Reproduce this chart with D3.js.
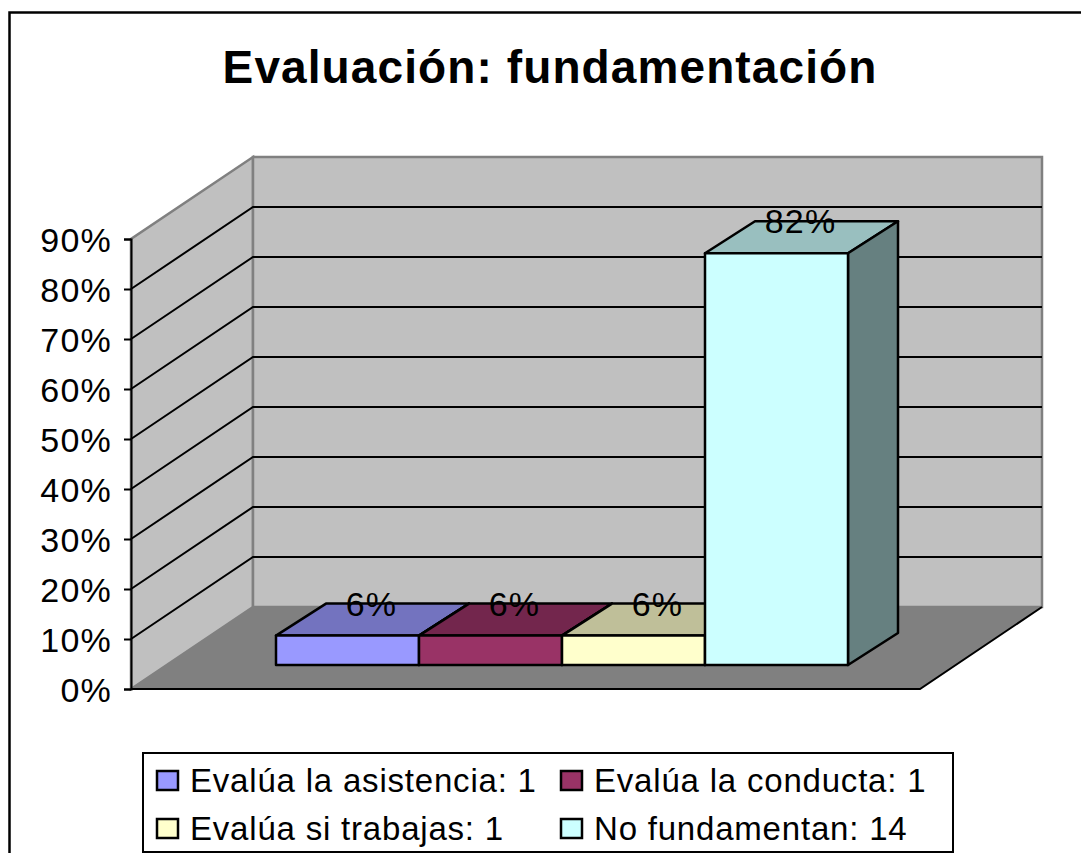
<!DOCTYPE html>
<html>
<head>
<meta charset="utf-8">
<script src="https://cdn.jsdelivr.net/npm/d3@7"></script>
<style>
html, body { margin: 0; padding: 0; background: #fff; }
svg { display: block; }
text { font-family: "Liberation Sans", Arial, sans-serif; fill: #000; }
</style>
</head>
<body>
<div id="chart"></div>
<script>
const width = 1081;
const height = 853;

const categories = ["Evalúa la asistencia", "Evalúa la conducta", "Evalúa si trabajas", "No fundamentan"];
const counts = [1, 1, 1, 14];
const percents = [5.88, 5.88, 5.88, 82.35];
const percentLabels = ["6%", "6%", "6%", "82%"];
const barColors = ["#9999FF", "#993366", "#FFFFCC", "#CCFFFF"];
const topColors = ["#7373BF", "#73264D", "#BFBF99", "#99BFBF"];
const sideColors = ["#4D4D80", "#4D1A33", "#808066", "#668080"];
const yTicks = [0, 10, 20, 30, 40, 50, 60, 70, 80, 90];

const svg = d3.select("#chart").append("svg")
    .attr("width", width)
    .attr("height", height);

// plot frame, front corner of the floor to the back wall
const plot = {left: 131, right: 920, bottom: 689, top: 239};
const wallDepth = {x: 122, y: -82};
const barDepth = {x: 50, y: -32};
const barFloor = -24; // bars stand a bit behind the front edge of the floor

const y = d3.scaleLinear().domain([0, 90]).range([plot.bottom, plot.top]);
const x = d3.scaleBand().domain(categories).range([276, 848]);

// outer border, only top and left show in the picture
svg.append("path")
    .attr("d", "M9.5,853V12.5H1081")
    .attr("fill", "none")
    .attr("stroke", "#000")
    .attr("stroke-width", 2.5);

svg.append("text")
    .attr("x", 550)
    .attr("y", 83)
    .attr("text-anchor", "middle")
    .attr("font-size", 46)
    .attr("font-weight", "bold")
    .attr("letter-spacing", 1.1)
    .text("Evaluación: fundamentación");

const pts = a => a.map(p => p.join(",")).join(" ");

// side wall
svg.append("polygon")
    .attr("points", pts([
        [plot.left, y(0)],
        [plot.left, y(90)],
        [plot.left + wallDepth.x, y(90) + wallDepth.y],
        [plot.left + wallDepth.x, y(0) + wallDepth.y]
    ]))
    .attr("fill", "#C0C0C0")
    .attr("stroke", "#808080")
    .attr("stroke-width", 2.5);

// back wall
svg.append("rect")
    .attr("x", plot.left + wallDepth.x)
    .attr("y", y(90) + wallDepth.y)
    .attr("width", plot.right - plot.left)
    .attr("height", y(0) - y(90))
    .attr("fill", "#C0C0C0")
    .attr("stroke", "#808080")
    .attr("stroke-width", 2.5);

// floor
svg.append("polygon")
    .attr("points", pts([
        [plot.left, y(0)],
        [plot.right, y(0)],
        [plot.right + wallDepth.x, y(0) + wallDepth.y],
        [plot.left + wallDepth.x, y(0) + wallDepth.y]
    ]))
    .attr("fill", "#808080");
svg.append("path")
    .attr("d", `M${plot.left},${y(0)}H${plot.right}L${plot.right + wallDepth.x},${y(0) + wallDepth.y}`)
    .attr("fill", "none")
    .attr("stroke", "#000")
    .attr("stroke-width", 2);

// gridlines on both walls
svg.append("g")
    .selectAll("path")
    .data(yTicks.filter(d => d > 0 && d < 90))
    .join("path")
    .attr("d", d => `M${plot.left},${y(d)}L${plot.left + wallDepth.x},${y(d) + wallDepth.y}H${plot.right + wallDepth.x}`)
    .attr("fill", "none")
    .attr("stroke", "#000")
    .attr("stroke-width", 2);

// y axis
const axis = svg.append("g")
    .attr("transform", `translate(${plot.left},0)`)
    .call(d3.axisLeft(y).tickValues(yTicks).tickFormat(d => d + "%").tickSize(7).tickPadding(12));
axis.selectAll("path, line").attr("stroke", "#000").attr("stroke-width", 2);
axis.selectAll("text")
    .attr("font-size", 34)
    .attr("letter-spacing", 1.2)
    .attr("font-family", '"Liberation Sans", Arial, sans-serif')
    .attr("dy", "0.38em");

// bars
const bars = svg.append("g")
    .selectAll("g")
    .data(categories.map((c, i) => ({c, i, v: percents[i]})))
    .join("g")
    .attr("stroke", "#000")
    .attr("stroke-width", 2.5)
    .attr("stroke-linejoin", "round");

const x0 = d => x(d.c);
const x1 = d => x(d.c) + x.bandwidth();
const yBase = y(0) + barFloor;
const yTop = d => yBase - (y(0) - y(d.v));

bars.append("polygon")
    .attr("fill", d => topColors[d.i])
    .attr("points", d => pts([
        [x0(d), yTop(d)],
        [x1(d), yTop(d)],
        [x1(d) + barDepth.x, yTop(d) + barDepth.y],
        [x0(d) + barDepth.x, yTop(d) + barDepth.y]
    ]));
bars.append("polygon")
    .attr("fill", d => sideColors[d.i])
    .attr("points", d => pts([
        [x1(d), yTop(d)],
        [x1(d) + barDepth.x, yTop(d) + barDepth.y],
        [x1(d) + barDepth.x, yBase + barDepth.y],
        [x1(d), yBase]
    ]));
bars.append("rect")
    .attr("fill", d => barColors[d.i])
    .attr("x", x0)
    .attr("y", yTop)
    .attr("width", x.bandwidth())
    .attr("height", d => yBase - yTop(d));

// value labels sit on the back edge of the bar top
svg.append("g")
    .selectAll("text")
    .data(categories.map((c, i) => ({c, i, v: percents[i]})))
    .join("text")
    .attr("x", d => x0(d) + x.bandwidth() / 2 + barDepth.x / 2 - 1)
    .attr("y", d => yTop(d) + barDepth.y + 12)
    .attr("text-anchor", "middle")
    .attr("font-size", 34)
    .attr("letter-spacing", 1.2)
    .text(d => percentLabels[d.i]);

// legend
svg.append("rect")
    .attr("x", 143)
    .attr("y", 753)
    .attr("width", 810)
    .attr("height", 99)
    .attr("fill", "#fff")
    .attr("stroke", "#000")
    .attr("stroke-width", 2);

const legendX = d3.scalePoint().domain([0, 1]).range([157, 561]);
const legendY = d3.scalePoint().domain([0, 1]).range([771, 819]);

const legend = svg.append("g")
    .selectAll("g")
    .data(categories.map((c, i) => ({c, i})))
    .join("g")
    .attr("transform", d => `translate(${legendX(d.i % 2)},${legendY(Math.floor(d.i / 2))})`);
legend.append("rect")
    .attr("width", 21)
    .attr("height", 19)
    .attr("fill", d => barColors[d.i])
    .attr("stroke", "#000")
    .attr("stroke-width", 2.5);
legend.append("text")
    .attr("x", 33)
    .attr("y", 21)
    .attr("font-size", 33)
    .attr("letter-spacing", 0.8)
    .text(d => d.c + ": " + counts[d.i]);
</script>
</body>
</html>
